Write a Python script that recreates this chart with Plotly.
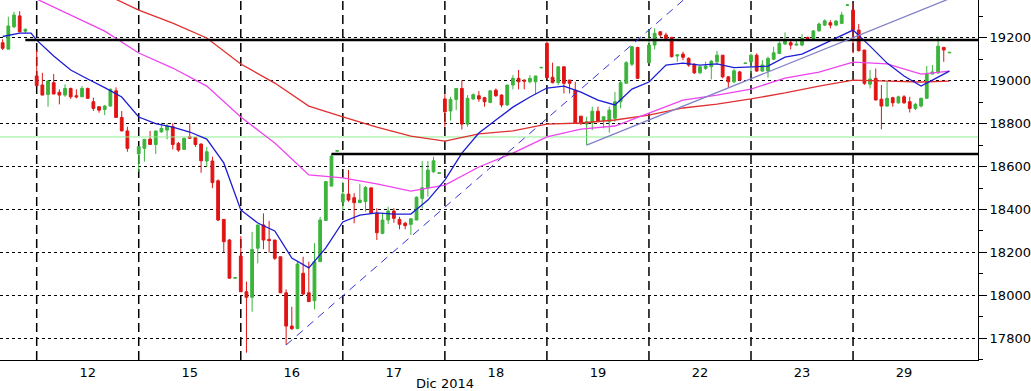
import plotly.graph_objects as go

# ---------------- data ----------------
day_labels = ['12', '15', '16', '17', '18', '19', '22', '23', '29']
day_starts = [6, 24, 42, 60, 78, 96, 114, 132, 150]
month_label = 'Dic 2014'

ohlc = [
    (19177, 19193, 19143, 19151), (19147, 19298, 19147, 19255), (19251, 19321, 19245, 19306),
    (19302, 19324, 19225, 19228), (19231, 19244, 19220, 19239), None,
    (19022, 19143, 18975, 18977), (18980, 19037, 18933, 18933), (18936, 19000, 18879, 18999),
    (18991, 19031, 18938, 18938), (18946, 18960, 18890, 18933), (18933, 18983, 18925, 18964),
    (18964, 18968, 18915, 18925), (18930, 18960, 18918, 18925), (18925, 18975, 18925, 18964),
    (18964, 18968, 18915, 18918), (18902, 18921, 18859, 18871), (18879, 18880, 18851, 18863),
    (18866, 18887, 18840, 18882), (18882, 18964, 18879, 18960), (18953, 18969, 18829, 18829),
    (18829, 18859, 18766, 18766), (18766, 18786, 18669, 18685), None,
    (18659, 18693, 18576, 18693), (18685, 18727, 18623, 18727), (18728, 18766, 18703, 18703),
    (18703, 18766, 18659, 18766), (18762, 18804, 18757, 18778), (18770, 18801, 18727, 18789),
    (18786, 18801, 18680, 18703), (18708, 18715, 18669, 18677), (18680, 18735, 18677, 18732),
    (18739, 18801, 18730, 18732), (18736, 18736, 18692, 18703), (18705, 18708, 18571, 18627),
    (18626, 18692, 18599, 18669), (18626, 18646, 18499, 18525), (18534, 18540, 18346, 18351),
    (18354, 18354, 18199, 18250), (18258, 18263, 18078, 18080), (18080, 18085, 18078, 18083),
    (18183, 18276, 18017, 18017), (18017, 18064, 17733, 17991), (17991, 18296, 17924, 18214),
    (18220, 18328, 18149, 18328), (18328, 18382, 18215, 18258), (18261, 18347, 18199, 18255),
    (18258, 18258, 18165, 18173), (18180, 18180, 18012, 18012), (18012, 18028, 17769, 17857),
    (17857, 17947, 17839, 17845), (17846, 18157, 17842, 18146), (18103, 18180, 18002, 18006),
    (18012, 18157, 17971, 17971), (17975, 18243, 17935, 18157), (18157, 18366, 18157, 18351),
    (18349, 18530, 18349, 18530), (18509, 18657, 18509, 18649), (18672, 18676, 18670, 18674),
    (18436, 18529, 18395, 18472), (18472, 18584, 18436, 18444), (18455, 18476, 18336, 18432),
    (18432, 18519, 18432, 18444), (18437, 18509, 18390, 18503), (18501, 18501, 18382, 18382),
    (18382, 18406, 18258, 18292), (18289, 18382, 18285, 18351), (18351, 18413, 18332, 18393),
    (18393, 18406, 18338, 18359), (18354, 18366, 18308, 18331), (18336, 18343, 18308, 18325),
    (18331, 18357, 18282, 18357), (18351, 18461, 18350, 18457), (18452, 18626, 18405, 18501),
    (18501, 18626, 18460, 18584), (18576, 18646, 18571, 18627), (18569, 18573, 18567, 18571),
    (18915, 18937, 18786, 18855), (18859, 18925, 18814, 18913), (18913, 18964, 18863, 18964),
    (18964, 19003, 18773, 18798), (18798, 18933, 18786, 18918), (18915, 18941, 18910, 18935),
    (18930, 18952, 18902, 18915), (18921, 18925, 18879, 18902), (18899, 18956, 18895, 18953),
    (18956, 18964, 18925, 18930), (18933, 18937, 18876, 18887), (18887, 18980, 18882, 18980),
    (18980, 19026, 18960, 19011), (19011, 19050, 18960, 18995), (19003, 19006, 18960, 18998),
    (18995, 19026, 18988, 19011), (18995, 19022, 18937, 19022), (19060, 19064, 19058, 19062),
    (19174, 19182, 19010, 19014), (19016, 19084, 18988, 18991), (18991, 19065, 18980, 19065),
    (19065, 19065, 18941, 18988), (19003, 19003, 18941, 18988), (18956, 18995, 18801, 18804),
    (18835, 18835, 18793, 18804), (18798, 18832, 18700, 18809), (18804, 18879, 18770, 18858),
    (18858, 18879, 18809, 18809), (18814, 18832, 18778, 18832), (18809, 18879, 18758, 18863),
    (18825, 18948, 18809, 18902), (18902, 19003, 18871, 18991), (18988, 19091, 18988, 19084),
    (19077, 19163, 19068, 19158), (19155, 19158, 19008, 19011), None,
    (19084, 19239, 19080, 19166), (19166, 19244, 19146, 19221), (19228, 19231, 19202, 19213),
    (19213, 19224, 19193, 19197), (19202, 19202, 19108, 19112), (19115, 19124, 19088, 19120),
    (19124, 19135, 19096, 19109), (19104, 19109, 19065, 19073), (19077, 19081, 19031, 19037),
    (19037, 19065, 19031, 19065), (19057, 19088, 19050, 19068), (19065, 19096, 19006, 19091),
    (19088, 19139, 19073, 19119), (19119, 19119, 19011, 19018), (19018, 19022, 18969, 18995),
    (18995, 19054, 18988, 19046), (19041, 19046, 18998, 19003), (19080, 19084, 19078, 19082),
    (19088, 19127, 19034, 19119), (19119, 19127, 19041, 19045), (19045, 19096, 19041, 19073),
    (19045, 19112, 19014, 19104), (19100, 19158, 19096, 19130), (19127, 19182, 19124, 19174),
    (19171, 19225, 19166, 19186), (19177, 19186, 19146, 19166), (19166, 19192, 19163, 19170),
    (19166, 19217, 19161, 19197), (19202, 19205, 19193, 19197), (19197, 19236, 19191, 19232),
    (19232, 19271, 19229, 19264), (19259, 19286, 19254, 19279), (19270, 19282, 19244, 19259),
    (19259, 19282, 19254, 19278), (19267, 19321, 19267, 19306), (19351, 19355, 19349, 19353),
    (19329, 19360, 19127, 19236), (19236, 19264, 19136, 19140), (19143, 19143, 18980, 18988),
    (18984, 19050, 18964, 19008), (19011, 19057, 18910, 18910), (18914, 18980, 18774, 18882),
    (18882, 18995, 18879, 18918), (18921, 18925, 18879, 18897), (18897, 18930, 18893, 18925),
    (18925, 18933, 18893, 18897), (18902, 18925, 18852, 18871), (18871, 18897, 18863, 18890),
    (18882, 18921, 18875, 18918), (18918, 19069, 18918, 19034), (19031, 19073, 19031, 19041),
    (19037, 19205, 19031, 19161), (19155, 19158, 19088, 19143), (19130, 19134, 19128, 19132),
]

ma_fast_idx = [0, 3, 5, 6, 9, 12, 15, 18, 21, 24, 27, 30, 33, 36, 39, 42, 45, 48, 51, 54, 57,
               60, 63, 66, 69, 72, 75, 78, 81, 84, 87, 90, 93, 96, 99, 102, 105, 108, 111, 114,
               117, 120, 123, 126, 129, 132, 135, 138, 141, 144, 147, 150, 153, 156, 159, 162,
               165, 167]
ma_fast = [19206, 19222, 19222, 19189, 19115, 19050, 19008, 18968, 18924, 18831, 18800, 18784,
           18761, 18728, 18617, 18398, 18337, 18300, 18174, 18128, 18221, 18342, 18374, 18384,
           18379, 18379, 18444, 18537, 18663, 18756, 18817, 18877, 18924, 18966, 18975, 18947,
           18910, 18887, 18961, 18994, 19073, 19082, 19073, 19078, 19061, 19064, 19068, 19110,
           19124, 19161, 19199, 19236, 19161, 19082, 19022, 18975, 19017, 19045]

ma_mid_idx = [0, 6, 12, 18, 24, 30, 36, 42, 48, 54, 60, 66, 72, 78, 84, 90, 96, 102, 108, 114,
              120, 126, 132, 138, 144, 150, 156, 162, 167]
ma_mid = [19455, 19380, 19306, 19231, 19129, 19059, 18975, 18831, 18710, 18561, 18547, 18519,
          18486, 18514, 18598, 18663, 18738, 18775, 18789, 18849, 18910, 18933, 18961, 19012,
          19040, 19087, 19078, 19031, 19045]

ma_slow_idx = [12, 18, 24, 30, 36, 42, 48, 54, 60, 66, 72, 78, 84, 90, 96, 102, 108, 114, 120,
               126, 132, 138, 144, 150, 156, 162, 167]
ma_slow = [19469, 19404, 19329, 19268, 19199, 19078, 18989, 18882, 18831, 18784, 18742, 18719,
           18752, 18766, 18798, 18803, 18817, 18840, 18873, 18891, 18915, 18943, 18975, 19003,
           18998, 18994, 18998]

level_values = [19190, 18659]
level_start = [4, 58]
marker_level = 18738

trend_dash_x = [50, 122]
trend_dash_y = [17769, 19420]
trend_solid_x = [103, 170]
trend_solid_y = [18700, 19414]

y_major = [17800, 18000, 18200, 18400, 18600, 18800, 19000, 19200]

# ---------------- style ----------------
GREEN = '#3cb43c'
RED = '#e01414'
X_MIN, X_MAX = -0.471, 172.04
Y_MIN, Y_MAX = 17699, 19376
FONT = 'DejaVu Sans'

idx = [i for i, v in enumerate(ohlc) if v is not None]
o = [ohlc[i][0] for i in idx]
h = [ohlc[i][1] for i in idx]
l = [ohlc[i][2] for i in idx]
c = [ohlc[i][3] for i in idx]

fig = go.Figure()

fig.add_trace(go.Scatter(x=[X_MIN, X_MAX], y=[marker_level, marker_level], mode='lines',
                         line=dict(color='#90ee90', width=1), hoverinfo='skip', showlegend=False))

fig.add_trace(go.Candlestick(
    x=idx, open=o, high=h, low=l, close=c,
    increasing=dict(line=dict(color=GREEN, width=1), fillcolor=GREEN),
    decreasing=dict(line=dict(color=RED, width=1), fillcolor=RED),
    whiskerwidth=0, showlegend=False, hoverinfo='skip'))

fig.add_trace(go.Scatter(x=ma_slow_idx, y=ma_slow, mode='lines',
                         line=dict(color='#e03030', width=1.3), showlegend=False, hoverinfo='skip'))
fig.add_trace(go.Scatter(x=ma_mid_idx, y=ma_mid, mode='lines',
                         line=dict(color='#ee44ee', width=1.3), showlegend=False, hoverinfo='skip'))
fig.add_trace(go.Scatter(x=ma_fast_idx, y=ma_fast, mode='lines',
                         line=dict(color='#1c1cd4', width=1.3), showlegend=False, hoverinfo='skip'))

for v, s in zip(level_values, level_start):
    fig.add_trace(go.Scatter(x=[s, X_MAX], y=[v, v], mode='lines',
                             line=dict(color='black', width=2.5), showlegend=False, hoverinfo='skip'))

fig.add_trace(go.Scatter(x=trend_dash_x, y=trend_dash_y, mode='lines',
                         line=dict(color='#3535d8', width=1, dash='8px,6px'),
                         showlegend=False, hoverinfo='skip'))
fig.add_trace(go.Scatter(x=trend_solid_x, y=trend_solid_y, mode='lines',
                         line=dict(color='#8080c8', width=1.3), showlegend=False, hoverinfo='skip'))

# arrows at the major price levels on the right axis
fig.add_trace(go.Scatter(x=[1.0045] * len(y_major), y=y_major, xaxis='x2', mode='markers',
                         marker=dict(symbol='triangle-right', size=7, color='black'),
                         cliponaxis=False, showlegend=False, hoverinfo='skip'))

for s in day_starts:
    fig.add_shape(type='line', xref='x', yref='paper', x0=s, x1=s, y0=0, y1=1,
                  line=dict(color='black', width=1.5, dash='9px,5px'), layer='below')

fig.add_annotation(x=day_starts[4], y=-0.066, xref='x', yref='paper', text=month_label,
                   showarrow=False, yanchor='middle', xanchor='center',
                   font=dict(family=FONT, size=13, color='black'))

fig.update_layout(
    width=1031, height=391,
    margin=dict(l=0, r=42, t=0, b=31),
    paper_bgcolor='white', plot_bgcolor='white',
    showlegend=False,
    xaxis=dict(range=[X_MIN, X_MAX], rangeslider=dict(visible=False),
               tickvals=[s + 9 for s in day_starts], ticktext=day_labels,
               showgrid=False, zeroline=False, ticks='', showline=True, linecolor='black',
               linewidth=1, tickfont=dict(family=FONT, size=13, color='black')),
    xaxis2=dict(range=[0, 1], overlaying='x', visible=False),
    yaxis=dict(range=[Y_MIN, Y_MAX], side='right', tickvals=y_major,
               exponentformat='none', separatethousands=False, tickformat='d',
               ticks='outside', ticklen=8, tickcolor='black',
               showgrid=True, gridcolor='black', gridwidth=1, griddash='dot',
               zeroline=False, showline=True, linecolor='black', linewidth=1,
               tickfont=dict(family=FONT, size=13, color='black'),
               minor=dict(dtick=100, tick0=17700, ticks='outside', ticklen=4, tickcolor='black',
                          showgrid=False)),
)

fig.write_html('out.html', config={'displayModeBar': False},
               post_script="document.body.style.margin='0';document.body.style.overflow='hidden';")
